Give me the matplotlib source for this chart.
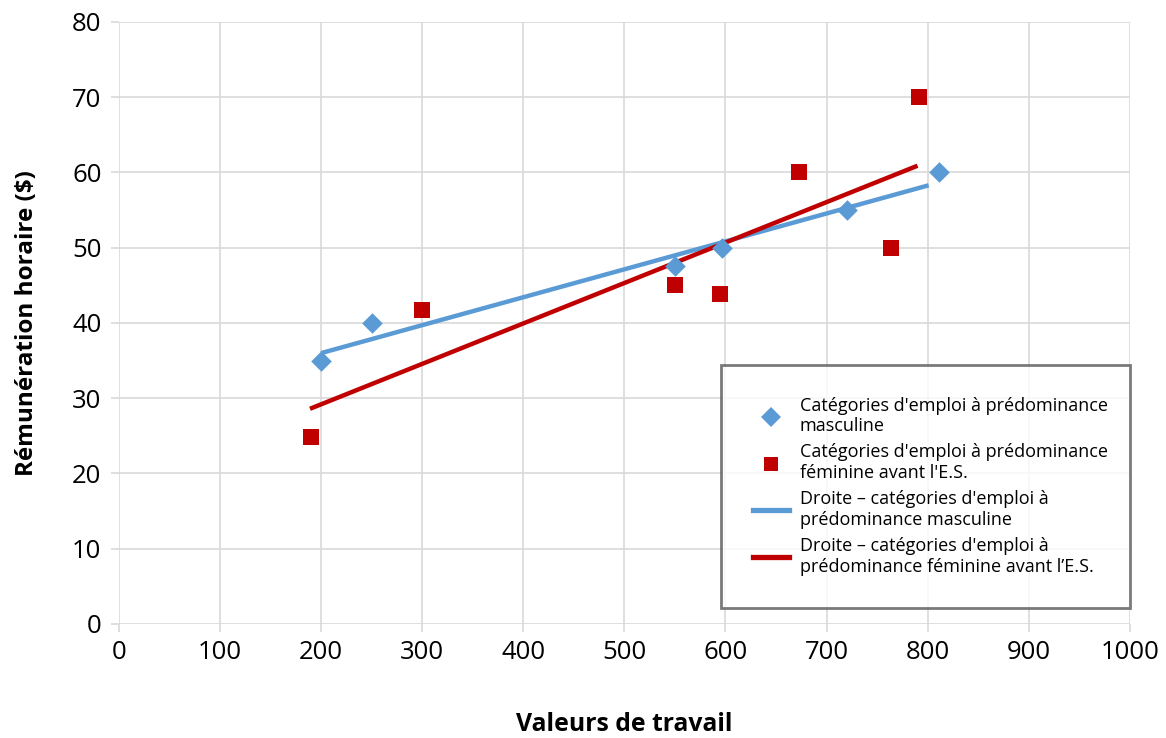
import matplotlib
matplotlib.use("Agg")
import matplotlib.pyplot as plt
from matplotlib.lines import Line2D

plt.rcParams['font.family'] = ['Open Sans', 'DejaVu Sans']

# Data
masc_x = [200, 250, 550, 597, 720, 811]
masc_y = [35, 40, 47.6, 50, 55, 60]
fem_x = [190, 300, 550, 595, 673, 764, 791]
fem_y = [24.9, 41.7, 45.0, 43.8, 60, 50, 70]
masc_line_x = [200, 801]
masc_line_y = [36.0, 58.3]
fem_line_x = [189, 790]
fem_line_y = [28.6, 60.9]

x_ticks = [0, 100, 200, 300, 400, 500, 600, 700, 800, 900, 1000]
y_ticks = [0, 10, 20, 30, 40, 50, 60, 70, 80]

labels = [
    "Catégories d'emploi à prédominance\nmasculine",
    "Catégories d'emploi à prédominance\nféminine avant l'E.S.",
    "Droite – catégories d'emploi à\nprédominance masculine",
    "Droite – catégories d'emploi à\nprédominance féminine avant l’E.S.",
]

blue = '#5B9BD5'
red = '#C00000'
grid_c = '#D9D9D9'

fig = plt.figure(figsize=(11.66, 7.38), dpi=100)
ax = fig.add_axes([0.102, 0.1545, 0.867, 0.8157])

ax.plot(masc_line_x, masc_line_y, color=blue, lw=3.2, solid_capstyle='butt', zorder=3)
ax.plot(fem_line_x, fem_line_y, color=red, lw=3.2, solid_capstyle='butt', zorder=3)
ax.scatter(masc_x, masc_y, marker='D', s=110, color=blue, zorder=4, linewidths=0)
ax.scatter(fem_x, fem_y, marker='s', s=120, color=red, zorder=4, linewidths=0)

ax.set_xlim(0, 1000)
ax.set_ylim(0, 80)
ax.set_xticks(x_ticks)
ax.set_yticks(y_ticks)
ax.tick_params(axis='both', length=5.5, width=1.2, color=grid_c, direction='out',
               labelsize=18.5, labelcolor='#000000')
ax.tick_params(axis='x', pad=6)
ax.tick_params(axis='y', pad=7)
ax.grid(True, color=grid_c, lw=1.2)
ax.set_axisbelow(True)
for s in ax.spines.values():
    s.set_visible(False)

ax.set_xlabel('Valeurs de travail', fontsize=17.8, fontweight='bold', labelpad=34)
ax.set_ylabel('Rémunération horaire ($)', fontsize=17.5, fontweight='bold', labelpad=24)

handles = [
    Line2D([], [], marker='D', color=blue, ls='none', markersize=10, markeredgewidth=0),
    Line2D([], [], marker='s', color=red, ls='none', markersize=10.5, markeredgewidth=0),
    Line2D([], [], color=blue, lw=3.8),
    Line2D([], [], color=red, lw=3.8),
]
leg = ax.legend(handles, labels, loc='lower left', bbox_to_anchor=(0.596, 0.027, 0.404, 0.399),
                mode='expand', fontsize=13, frameon=True, fancybox=False,
                edgecolor='#595959', borderpad=1.75, labelspacing=0.45,
                handlelength=2.0, handletextpad=0.6, borderaxespad=0)
leg.get_frame().set_linewidth(2)

fig.savefig('out.png', dpi=100, facecolor='white')
